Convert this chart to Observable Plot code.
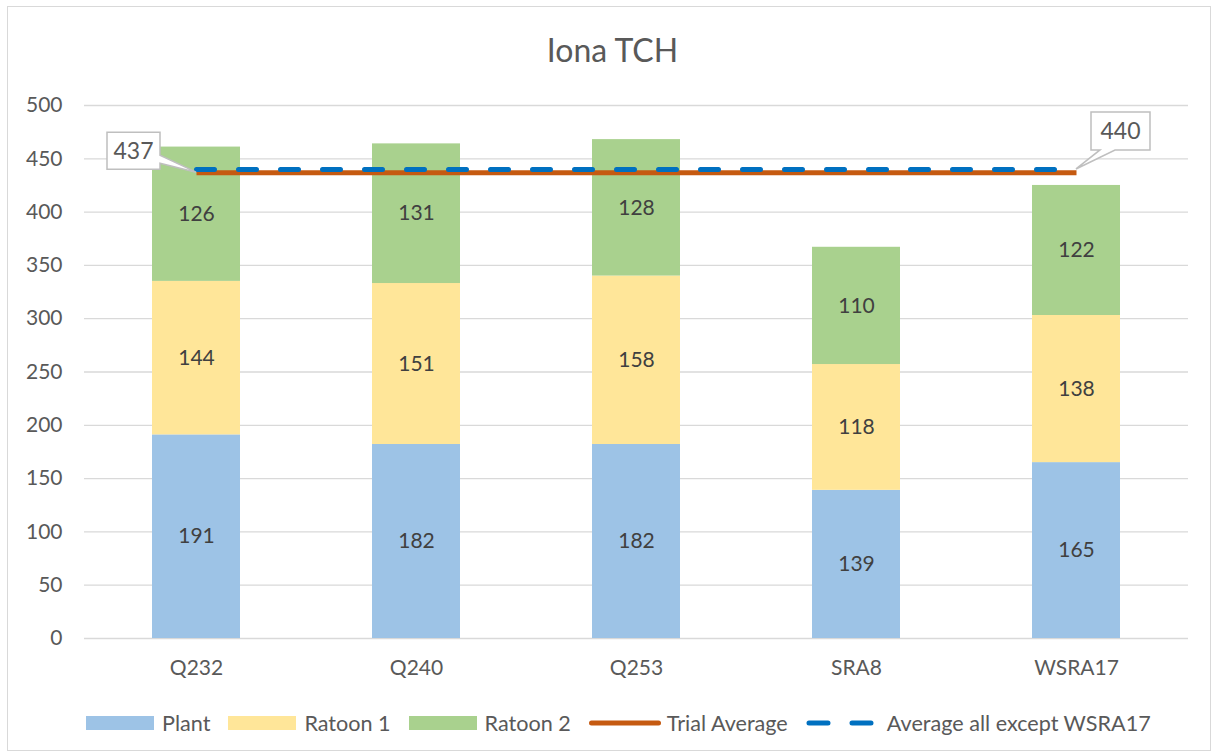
<!DOCTYPE html>
<html>
<head>
<meta charset="utf-8">
<script src="https://cdn.jsdelivr.net/npm/d3@7"></script>
<script src="https://cdn.jsdelivr.net/npm/@observablehq/plot@0.6"></script>
<style>
  html, body { margin: 0; padding: 0; background: #fff; }
  body { width: 1215px; height: 755px; position: relative; overflow: hidden; font-family: Lato, "Open Sans", sans-serif; }
  #border { position: absolute; left: 7px; top: 6px; width: 1204px; height: 745px; border: 1.5px solid #d9d9d9; box-sizing: border-box; pointer-events: none; }
  #wrap { position: absolute; left: 0; top: 0; width: 1215px; }
  #title { height: 80px; line-height: 100px; text-align: center; font-size: 32px; color: #595959; padding-left: 10px; }
  #legend { display: flex; justify-content: flex-start; align-items: center; height: 30px; margin-top: 20px; font-size: 21.6px; color: #595959; padding-left: 86px; }
  .item { display: flex; align-items: center; margin-right: 18px; }
  .sw { width: 68px; height: 14px; margin-right: 8px; }
</style>
</head>
<body>
<div id="wrap">
  <div id="title">Iona TCH</div>
  <div id="chart"></div>
  <div id="legend"></div>
</div>
<div id="border"></div>
<script>
const categories = ["Q232", "Q240", "Q253", "SRA8", "WSRA17"];
const series = ["Plant", "Ratoon 1", "Ratoon 2"];
const seriesColors = ["#9dc3e6", "#ffe699", "#a9d18e"];
const plant = [191, 182, 182, 139, 165];
const ratoon1 = [144, 151, 158, 118, 138];
const ratoon2 = [126, 131, 128, 110, 122];
const trialAverage = 437;
const averageExceptWSRA17 = 440;
const yTicks = [0, 50, 100, 150, 200, 250, 300, 350, 400, 450, 500];
const lineNames = ["Trial Average", "Average all except WSRA17"];
const lineColors = ["#c55a11", "#0070c0"];

const seriesValues = [plant, ratoon1, ratoon2];
const data = categories.flatMap((c, i) =>
  series.map((s, j) => ({category: c, series: s, value: seriesValues[j][i]}))
);

function callout(value, firstIndex, box, wedge) {
  return (index, scales, values, dimensions, context) => {
    const x = scales.x, y = scales.y;
    let bw = x.bandwidth;
    bw = typeof bw === "function" ? bw() : (bw || 0);
    const px = x(categories[firstIndex]) + bw / 2;
    const py = y(value);
    const g = d3.create("svg:g");
    const [l, t, r, b] = [px + box[0], py + box[1], px + box[2], py + box[3]];
    g.append("path")
      .attr("d", wedge(l, t, r, b, px, py))
      .attr("fill", "#fff")
      .attr("stroke", "#bfbfbf")
      .attr("stroke-width", 1.5);
    g.append("text")
      .attr("x", (l + r) / 2)
      .attr("y", (t + b) / 2)
      .attr("dy", "0.36em")
      .attr("text-anchor", "middle")
      .attr("fill", "#595959")
      .attr("font-size", 23)
      .text(value);
    return g.node();
  };
}

const chart = Plot.plot({
  width: 1215,
  height: 608,
  marginTop: 25,
  marginBottom: 50,
  marginLeft: 84,
  marginRight: 27,
  style: {fontFamily: "Lato, 'Open Sans', sans-serif", fontSize: "21px", color: "#595959", background: "transparent"},
  x: {domain: categories, paddingInner: 0.6, paddingOuter: 0.3, label: null},
  y: {domain: [0, 500], label: null},
  color: {domain: series, range: seriesColors},
  marks: [
    Plot.gridY(yTicks, {stroke: "#d9d9d9", strokeOpacity: 1, strokeWidth: 1.3}),
    Plot.barY(data, {x: "category", y: "value", fill: "series"}),
    Plot.text(data, Plot.stackY({x: "category", y: "value", text: "value", fill: "#404040", fontSize: 21})),
    Plot.axisY(yTicks, {tickSize: 0, tickPadding: 22, label: null, fill: "#595959", fontSize: 21}),
    Plot.axisX({tickSize: 0, tickPadding: 22, label: null, fill: "#595959", fontSize: 21}),
    Plot.lineY(categories, {x: d => d, y: () => trialAverage, stroke: lineColors[0], strokeWidth: 5, strokeLinecap: "butt"}),
    Plot.lineY(categories, {x: d => d, y: () => averageExceptWSRA17, stroke: lineColors[1], strokeWidth: 5, strokeDasharray: "18,24", strokeLinecap: "round"}),
    callout(trialAverage, 0, [-89, -40, -36, -3],
      (l, t, r, b, px, py) => `M${l},${t}H${r}V${py - 17}L${px},${py}L${r},${py - 9}V${b}H${l}Z`),
    callout(averageExceptWSRA17, 4, [15, -57, 74, -19],
      (l, t, r, b, px, py) => `M${l},${t}H${r}V${b}H${l + 24}L${px},${py}L${l + 9},${b}H${l}Z`)
  ]
});
document.getElementById("chart").appendChild(chart);

const legend = document.getElementById("legend");
series.forEach((s, i) => {
  const it = document.createElement("div");
  it.className = "item";
  it.innerHTML = `<div class="sw" style="background:${seriesColors[i]}"></div><span>${s}</span>`;
  legend.appendChild(it);
});
lineNames.forEach((s, i) => {
  const it = document.createElement("div");
  it.className = "item";
  const line = i === 0
    ? `<svg width="72" height="16" style="margin-right:6px"><line x1="2.5" y1="8" x2="69.5" y2="8" stroke="${lineColors[0]}" stroke-width="5" stroke-linecap="round"/></svg>`
    : `<svg width="68" height="16" style="margin-right:13px"><line x1="3" y1="8" x2="65" y2="8" stroke="${lineColors[1]}" stroke-width="5" stroke-dasharray="19,24" stroke-linecap="round"/></svg>`;
  it.innerHTML = `${line}<span>${s}</span>`;
  legend.appendChild(it);
});
</script>
</body>
</html>
